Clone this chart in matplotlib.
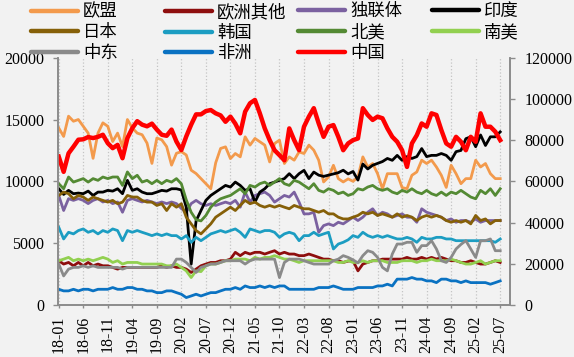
import numpy as np
import matplotlib.pyplot as plt

##DATA##########################################################################
months = ['%02d-%02d' % (18 + i // 12, i % 12 + 1) for i in range(91)]

eu = [14320, 13630, 15270, 14860, 15000, 14450, 13900, 11860, 13900, 14730,
      14450, 13220, 13900, 12810, 15000, 14320, 13900, 13770, 13090, 11450,
      13500, 13360, 12810, 11310, 12270, 12400, 12130, 10900, 10630, 10220,
      9810, 9400, 11500, 12660, 12790, 11840, 12250, 11980, 13600, 12930,
      13470, 13200, 12930, 11570, 13060, 13330, 11440, 11980, 11710, 12380,
      12250, 12930, 12520, 11710, 9950, 10350, 11300, 10220, 9950, 10200,
      10000, 10350, 11980, 11160, 11440, 10620, 9400, 10620, 10620, 10620,
      9500, 9400, 10490, 10760, 11710, 11440, 11710, 11160, 10490, 9510,
      11300, 10620, 9810, 10220, 10220, 11710, 11160, 11440, 10620, 10220,
      10220]
eu_other = [3580, 3310, 3440, 3170, 3440, 3170, 3440, 3170, 3310, 3170,
            3170, 3040, 2900, 3040, 3040, 3040, 3040, 3040, 3040, 3040,
            3040, 3170, 3040, 3170, 3040, 3040, 2900, 2630, 2900, 3170,
            3310, 3440, 3440, 3580, 3580, 3710, 4260, 3990, 4260, 4120,
            4260, 4260, 4120, 4260, 4390, 4120, 4260, 4120, 4120, 3990,
            3990, 4120, 3990, 3850, 3710, 3710, 3580, 3580, 3440, 3550,
            3580, 2760, 3310, 3440, 3580, 3580, 3710, 3710, 3710, 3710,
            3710, 3850, 3710, 3710, 3850, 3710, 3850, 3710, 3850, 3710,
            3580, 3580, 3440, 3440, 3580, 3440, 3310, 3310, 3440, 3580,
            3440]
cis = [8860, 7640, 8600, 8460, 8600, 8460, 8200, 8460, 8600, 8330,
       8460, 8200, 8330, 7500, 8460, 8600, 8460, 8330, 8460, 8330,
       8200, 8330, 8200, 8330, 8200, 7800, 7500, 8200, 8460, 8190,
       8050, 8190, 8050, 8190, 8320, 8190, 8460, 7910, 9130, 8320,
       8860, 9000, 9130, 8860, 8320, 8590, 8860, 8730, 9130, 8320,
       7370, 7370, 7500, 5880, 6420, 6560, 6420, 6690, 6560, 6830,
       7100, 6830, 7100, 7500, 7780, 7240, 7500, 7370, 7100, 7240,
       7370, 7100, 7100, 6690, 7780, 7500, 7370, 7240, 7100, 6830,
       6960, 6690, 6830, 6830, 6690, 6960, 6690, 6830, 6830, 6830,
       6830]
india = [9400, 8940, 9270, 9000, 9050, 9000, 9210, 8860, 9130, 9130,
         9270, 9210, 9400, 9000, 10080, 9270, 9400, 9130, 9000, 9000,
         9130, 9270, 9210, 9400, 9400, 9300, 7900, 3300, 6800, 7640,
         8460, 8860, 9130, 9400, 9670, 9540, 9940, 9670, 9270, 9400,
         8320, 9130, 9400, 9810, 9940, 10080, 10220, 10620, 10220, 10620,
         10890, 10220, 10750, 10500, 10400, 10500, 10600, 10700, 10900, 10600,
         10800, 10100, 11400, 11000, 11300, 11450, 11600, 11850, 11700, 12100,
         11700, 12000, 11850, 12000, 12650, 12000, 12100, 12100, 12250, 12100,
         11700, 12400, 12500, 13450, 13600, 12800, 13750, 12900, 13600, 13600,
         14000]
japan = [8860, 9130, 9000, 8590, 8860, 8730, 8460, 8730, 8590, 8460,
         8320, 8460, 8190, 8320, 8860, 8730, 8730, 8460, 8320, 8320,
         8050, 8190, 7640, 8190, 7910, 8190, 7100, 6560, 6020, 5750,
         6150, 6560, 7100, 7370, 7640, 7910, 7640, 8050, 8460, 8190,
         8320, 8050, 7910, 8050, 7910, 8050, 7910, 7780, 8050, 7910,
         7780, 7780, 7640, 7500, 7640, 7370, 7370, 7100, 6960, 6960,
         7100, 7240, 7500, 7370, 7500, 7240, 7370, 7240, 7100, 7370,
         7100, 7240, 7100, 6830, 7100, 7240, 7100, 7240, 7100, 6830,
         6690, 6830, 6690, 6830, 6560, 7240, 6830, 6960, 6560, 6830,
         6830]
korea = [6290, 5340, 5880, 5750, 6020, 6150, 5880, 6020, 5750, 6020,
         5880, 6150, 6020, 5200, 6020, 5880, 6020, 5880, 5750, 5610,
         5750, 5610, 5750, 5610, 5610, 5340, 5610, 5070, 5470, 5200,
         5470, 5750, 5880, 6020, 5880, 6020, 6150, 5880, 5470, 6150,
         6020, 5880, 6020, 6020, 5880, 5470, 5750, 5880, 5750, 5200,
         5610, 5610, 5880, 5610, 5750, 5880, 4530, 4930, 5070, 5270,
         5610, 5470, 5880, 5610, 5470, 5610, 5470, 5610, 5470, 5340,
         5340, 5470, 5340, 5070, 5470, 5340, 5340, 5470, 5470, 5340,
         5340, 5200, 5200, 5200, 5200, 5200, 5200, 5200, 5200, 5070,
         5340]
n_america = [9810, 9400, 10350, 9940, 10080, 10220, 9940, 10220, 10080, 10350,
             10220, 10350, 10350, 9670, 10760, 10220, 10490, 9940, 10080, 9810,
             10080, 9810, 10080, 9940, 10220, 9800, 8500, 7500, 6900, 6800,
             7240, 7910, 8320, 8590, 8730, 8860, 9130, 9400, 9000, 9670,
             9540, 9810, 9940, 9670, 9940, 10220, 9810, 9670, 10080, 9940,
             9670, 9400, 9810, 9270, 9130, 9400, 9270, 9000, 9130, 8860,
             9000, 9400, 9300, 9540, 9670, 9400, 9270, 9400, 9130, 9000,
             9270, 9130, 9400, 9130, 9000, 9270, 9000, 8860, 9130, 8860,
             9130, 9000, 9270, 9000, 8730, 8590, 9270, 9000, 9400, 8860,
             9400]
s_america = [3580, 3710, 3850, 3580, 3710, 3580, 3710, 3580, 3710, 3850,
             3710, 3440, 3580, 3310, 3440, 3440, 3440, 3310, 3310, 3310,
             3310, 3310, 3170, 3170, 3310, 3040, 2760, 2220, 2760, 2700,
             3170, 3310, 3310, 3440, 3580, 3580, 3710, 3710, 3710, 3580,
             3850, 3710, 3850, 3850, 3990, 3850, 3710, 3710, 3580, 3440,
             3580, 3580, 3580, 3580, 3580, 3580, 3580, 3440, 3440, 3580,
             3440, 3440, 3580, 3440, 3580, 3580, 3580, 3440, 3440, 3440,
             3580, 3580, 3580, 3440, 3580, 3580, 3710, 3580, 3580, 3580,
             3710, 3580, 3440, 3310, 3310, 3440, 3580, 3310, 3440, 3580,
             3580]
mideast = [3310, 2350, 2900, 3040, 3040, 3170, 3040, 3170, 3040, 3040,
           3040, 3040, 3040, 2900, 3040, 3040, 3040, 3040, 3040, 3040,
           3040, 3040, 3040, 3040, 3710, 3710, 3440, 3040, 2630, 3040,
           3170, 3310, 3310, 3440, 3580, 3580, 3580, 3580, 3310, 3580,
           3710, 3710, 3710, 3710, 3710, 2220, 3440, 3710, 3710, 3710,
           3580, 3440, 3310, 3310, 3310, 3310, 3580, 3710, 3990, 3850,
           3650, 3400, 3990, 4390, 4260, 3850, 3040, 2760, 4120, 4930,
           4930, 5070, 5070, 4260, 4800, 4800, 5200, 4530, 3580, 3440,
           3850, 4530, 4900, 5200, 4530, 3850, 5200, 5200, 5340, 4390,
           4390]
africa = [1270, 1140, 1140, 1270, 1140, 1270, 1270, 1140, 1270, 1270,
          1270, 1410, 1270, 1270, 1410, 1410, 1270, 1270, 1140, 1140,
          1000, 1000, 1140, 1140, 1000, 870, 600, 730, 870, 730,
          870, 1000, 1000, 1140, 1270, 1270, 1410, 1270, 1540, 1410,
          1410, 1540, 1410, 1540, 1410, 1540, 1540, 1270, 1270, 1270,
          1270, 1270, 1270, 1410, 1410, 1410, 1540, 1410, 1270, 1270,
          1270, 1410, 1410, 1410, 1410, 1540, 1540, 1680, 1540, 2090,
          2090, 2090, 2220, 2090, 2090, 1950, 1950, 1810, 2090, 2090,
          1950, 1950, 1810, 1950, 1810, 1810, 1810, 1810, 1680, 1810,
          1950]
china = [72000, 64600, 73600, 76800, 80200, 80400, 81500, 81000, 81600, 82600,
         78500, 76100, 77700, 71200, 81000, 85800, 89200, 87500, 86700, 88000,
         85100, 82600, 82100, 85100, 79300, 75200, 81800, 87500, 92500, 92500,
         94100, 94600, 93000, 92000, 88900, 91400, 88000, 83300, 93800, 97900,
         99500, 93000, 85700, 80000, 75100, 72700, 70200, 85700, 80000, 75100,
         86500, 91400, 95500, 88100, 81600, 86500, 87300, 81600, 75100, 78400,
         80000, 80800, 95500, 92200, 89800, 91400, 90600, 85700, 81600, 79200,
         75100, 67000, 78400, 82400, 88100, 86500, 93000, 92200, 84900, 78400,
         76800, 81600, 79200, 75100, 81600, 79200, 93000, 86500, 86500, 84100,
         80000]

left_series = [
    ('欧盟', eu, '#F39A4C'),
    ('欧洲其他', eu_other, '#8E0E0E'),
    ('独联体', cis, '#7B61A0'),
    ('印度', india, '#000000'),
    ('日本', japan, '#866008'),
    ('韩国', korea, '#1C9DC2'),
    ('北美', n_america, '#548A34'),
    ('南美', s_america, '#92D050'),
    ('中东', mideast, '#8A8A8A'),
    ('非洲', africa, '#0A72C2'),
]
################################################################################

plt.rcParams['font.family'] = ['Liberation Serif', 'Noto Sans CJK SC']
bg = '#f2f2f2'
spine_c = '#8c8c8c'

fig = plt.figure(figsize=(5.74, 3.57), dpi=100, facecolor=bg)
ax = fig.add_axes([0.1019, 0.1457, 0.7866, 0.6927])
ax.set_facecolor(bg)
x = np.arange(len(months))

handles = {}
for name, vals, c in left_series:
    ln, = ax.plot(x, vals, color=c, lw=2.0, solid_joinstyle='round')
    handles[name] = ln

ax2 = ax.twinx()
ln, = ax2.plot(x, china, color='#FF0000', lw=3.2, solid_joinstyle='round')
handles['中国'] = ln

ax.set_xlim(-0.05, 92)
ax.set_ylim(0, 20000)
ax2.set_ylim(0, 120000)
ax.set_yticks(range(0, 20001, 5000))
ax2.set_yticks(range(0, 120001, 20000))
ax.set_xticks(x[::5])
ax.set_xticklabels(months[::5], rotation=90)
ax.grid(axis='x', color='#c4c4c4', ls=':', lw=0.9)

for a in (ax, ax2):
    a.spines['top'].set_visible(False)
    for s in ('left', 'right', 'bottom'):
        a.spines[s].set_color(spine_c)
        a.spines[s].set_linewidth(1.2)
    a.tick_params(colors=spine_c, labelcolor='black', labelsize=11.5,
                  length=3.6, width=1.0, direction='out')
ax.tick_params(axis='y', pad=6.5)
ax.tick_params(axis='x', length=2.5, pad=5)
ax2.tick_params(axis='y', pad=7)

cols = [['欧盟', '日本', '中东'],
        ['欧洲其他', '韩国', '非洲'],
        ['独联体', '北美', '中国'],
        ['印度', '南美']]
col_x = [31, 165, 298, 432]
for names, cx in zip(cols, col_x):
    leg = fig.legend([handles[n] for n in names], names, loc='upper left',
                     bbox_to_anchor=(cx / 574, 1 - 4 / 357), frameon=False,
                     fontsize=12.5, borderpad=0, borderaxespad=0,
                     handlelength=2.7, handletextpad=0.3, labelspacing=0.27)
    for lh in leg.get_lines():
        lh.set_linewidth(3.2)
        lh.set_solid_capstyle('round')

fig.savefig('out.png', dpi=100, facecolor=bg)
